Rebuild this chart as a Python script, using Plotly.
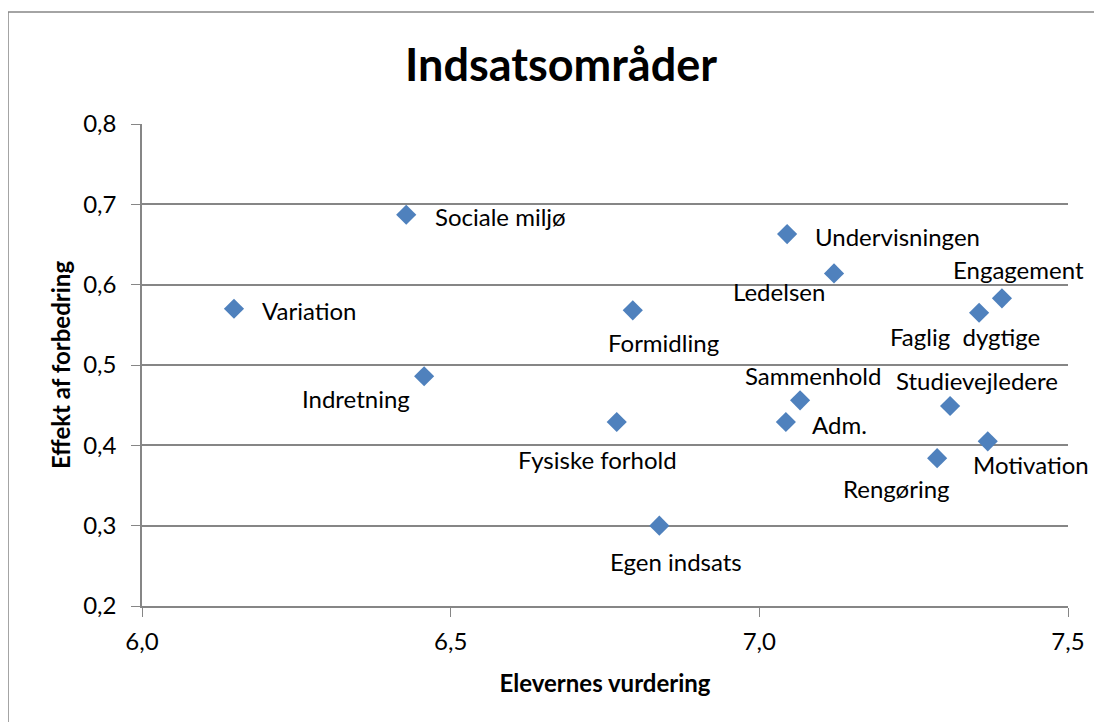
import plotly.graph_objects as go

# Indsatsområder – elevernes vurdering vs. effekt af forbedring
omraader = ["Sociale miljø", "Variation", "Indretning", "Formidling", "Fysiske forhold",
            "Egen indsats", "Undervisningen", "Ledelsen", "Sammenhold", "Adm.",
            "Engagement", "Faglig  dygtige", "Studievejledere", "Motivation", "Rengøring"]
vurdering = [6.428, 6.149, 6.457, 6.795, 6.769,
             6.838, 7.045, 7.121, 7.066, 7.043,
             7.393, 7.356, 7.309, 7.370, 7.288]
effekt = [0.687, 0.570, 0.486, 0.568, 0.429,
          0.300, 0.663, 0.614, 0.456, 0.429,
          0.583, 0.565, 0.449, 0.405, 0.384]

# label offsets in pixels (x right, y down) for each data label
label_offsets = [(94, 2), (75, 2), (-68, 22), (31, 32), (-19, 37),
                 (17, 36), (110, 2), (-55, 18), (13, -25), (54, 2),
                 (17, -29), (-14, 24), (27, -25), (43, 23), (-41, 30)]

FONT = "Lato, 'Open Sans', sans-serif"
# page body has an 8px margin, so the figure is a bit smaller than the window
W, H = 1094, 714
L, R, T, B = 134, 34, 116, 116

fig = go.Figure()
fig.add_scatter(x=vurdering, y=effekt, mode="markers", text=omraader, hoverinfo="text+x+y",
                marker=dict(symbol="diamond", size=15.5, color="#4F81BD", line=dict(width=0)))

for name, xv, yv, (dx, dy) in zip(omraader, vurdering, effekt, label_offsets):
    fig.add_annotation(x=xv, y=yv, text=name, showarrow=False, xanchor="center", yanchor="middle",
                       xshift=dx, yshift=-dy, font=dict(size=24, color="black", family=FONT))

axis_common = dict(showline=True, linecolor="#868686", linewidth=1.5, ticks="outside", ticklen=9,
                   tickcolor="#868686", tickfont=dict(size=24, color="black", family=FONT),
                   zeroline=False, mirror=False)
fig.update_xaxes(range=[6.0, 7.5], tickvals=[6.0, 6.5, 7.0, 7.5], tickformat=".1f", showgrid=False,
                 ticklabelstandoff=4,
                 title=dict(text="<b>Elevernes vurdering</b>", font=dict(size=24, color="black", family=FONT),
                            standoff=22), **axis_common)
fig.update_yaxes(range=[0.2, 0.8], dtick=0.1, tickformat=".1f", showgrid=True, gridcolor="#868686",
                 gridwidth=1.5, ticklabelstandoff=10,
                 title=dict(text="<b>Effekt af forbedring</b>",
                            font=dict(size=24, color="black", family=FONT), standoff=6),
                 **axis_common)

fig.update_layout(
    width=W, height=H, separators=",.",
    margin=dict(l=L, r=R, t=T, b=B),
    paper_bgcolor="white", plot_bgcolor="white",
    showlegend=False,
    title=dict(text="<b>Indsatsområder</b>", x=553 / W, xanchor="center",
               y=1 - 57 / H, yanchor="middle", font=dict(size=45, color="black", family=FONT)),
    font=dict(family=FONT),
)

# outer chart border (right and bottom edges fall outside the window)
pw, ph = W - L - R, H - T - B
fig.add_shape(type="rect", xref="paper", yref="paper",
              x0=(0 - L) / pw, x1=(W + 30 - L) / pw, y0=(H - B - (H + 30)) / ph, y1=(H - B - 4) / ph,
              line=dict(color="#868686", width=1.5), layer="below")

fig.write_html("out.html")
